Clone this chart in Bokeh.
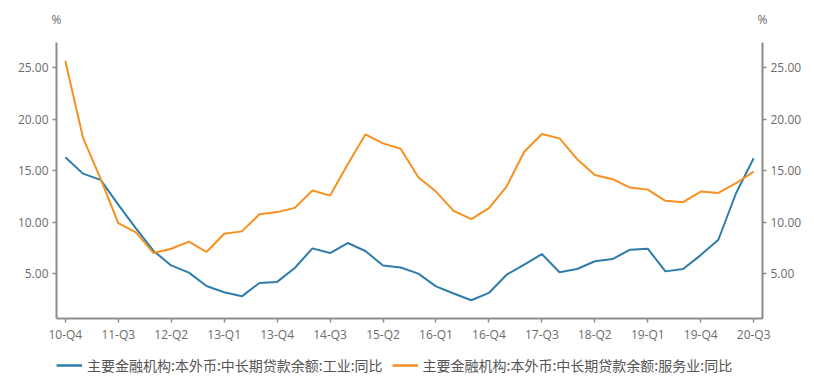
from bokeh.plotting import figure
from bokeh.layouts import column
from bokeh.models import (Range1d, LinearAxis, FixedTicker, NumeralTickFormatter,
                          Legend, LegendItem, ColumnDataSource)
from bokeh.embed import file_html
from bokeh.resources import INLINE

quarters = ["10-Q4",
            "11-Q1", "11-Q2", "11-Q3", "11-Q4",
            "12-Q1", "12-Q2", "12-Q3", "12-Q4",
            "13-Q1", "13-Q2", "13-Q3", "13-Q4",
            "14-Q1", "14-Q2", "14-Q3", "14-Q4",
            "15-Q1", "15-Q2", "15-Q3", "15-Q4",
            "16-Q1", "16-Q2", "16-Q3", "16-Q4",
            "17-Q1", "17-Q2", "17-Q3", "17-Q4",
            "18-Q1", "18-Q2", "18-Q3", "18-Q4",
            "19-Q1", "19-Q2", "19-Q3", "19-Q4",
            "20-Q1", "20-Q2", "20-Q3"]

industry = [16.3, 14.7, 14.1, 11.7, 9.4, 7.2, 5.8, 5.1, 3.8, 3.2,
            2.8, 4.1, 4.2, 5.55, 7.45, 7.0, 7.97, 7.2, 5.8, 5.6,
            5.0, 3.77, 3.07, 2.42, 3.13, 4.9, 5.87, 6.9, 5.13, 5.45,
            6.2, 6.42, 7.32, 7.42, 5.22, 5.45, 6.8, 8.29, 12.8, 16.2]

services = [25.63, 18.2, 14.2, 9.9, 9.0, 7.0, 7.42, 8.1, 7.1, 8.87,
            9.1, 10.77, 10.97, 11.38, 13.06, 12.57, 15.6, 18.5, 17.64, 17.12,
            14.35, 12.96, 11.09, 10.29, 11.35, 13.44, 16.83, 18.54, 18.12, 16.1,
            14.57, 14.16, 13.35, 13.15, 12.06, 11.93, 12.96, 12.83, 13.77, 14.9]

y_ticks = [5, 10, 15, 20, 25]
unit = "%"
label_industry = "主要金融机构:本外币:中长期贷款余额:工业:同比"
label_services = "主要金融机构:本外币:中长期贷款余额:服务业:同比"

BLUE = "#2e7dab"
ORANGE = "#f7901f"
AXIS = "#8c8c8c"
TICKTXT = "#6b6b6b"

idx = list(range(len(quarters)))
x_lo, x_hi = -0.5, len(quarters) - 0.5
src = ColumnDataSource(dict(x=idx, ind=industry, srv=services))

p = figure(width=814, height=345, output_backend="svg", toolbar_location=None,
           x_range=Range1d(x_lo, x_hi),
           y_range=Range1d(0.65, 27.42),
           min_border_left=56, min_border_right=52,
           min_border_top=42, min_border_bottom=26)
p.outline_line_color = None
p.xgrid.visible = False
p.ygrid.visible = False
p.background_fill_color = "white"
p.border_fill_color = "white"

p.line("x", "ind", source=src, line_color=BLUE, line_width=2)
p.line("x", "srv", source=src, line_color=ORANGE, line_width=2)

def style_axis(ax):
    ax.axis_line_color = AXIS
    ax.axis_line_width = 2
    ax.major_tick_line_color = AXIS
    ax.major_tick_line_width = 1.5
    ax.major_tick_out = 4
    ax.major_tick_in = 0
    ax.minor_tick_line_color = None
    ax.major_label_text_color = TICKTXT
    ax.major_label_text_font = "Open Sans"
    ax.major_label_text_font_size = "12px"

# x axis
xa = p.xaxis[0]
xa.ticker = FixedTicker(ticks=idx[::3])
xa.major_label_overrides = {i: quarters[i] for i in idx[::3]}
xa.major_label_standoff = 3
style_axis(xa)

# left y axis
ya = p.yaxis[0]
ya.ticker = FixedTicker(ticks=y_ticks)
ya.formatter = NumeralTickFormatter(format="0.00")
ya.major_label_standoff = 4
style_axis(ya)

# right y axis
ra = LinearAxis(ticker=FixedTicker(ticks=y_ticks),
                formatter=NumeralTickFormatter(format="0.00"))
ra.major_label_standoff = 4
style_axis(ra)
p.add_layout(ra, "right")

# unit labels above both value axes
ua = LinearAxis(ticker=FixedTicker(ticks=[x_lo, x_hi]))
ua.major_label_overrides = {x_lo: unit, x_hi: unit}
style_axis(ua)
ua.axis_line_color = None
ua.major_tick_line_color = None
ua.major_tick_out = 0
ua.major_label_standoff = 15
p.add_layout(ua, "above")

# legend strip (its frame is aligned with the chart frame by the column layout;
# the series lines sit outside its view ranges, so only the legend shows)
lg = figure(width=814, height=39, output_backend="svg", toolbar_location=None,
            x_range=Range1d(-100, -99), y_range=Range1d(-100, -99),
            min_border_left=56, min_border_right=52, min_border_top=0, min_border_bottom=0)
lg.axis.visible = False
lg.grid.visible = False
lg.outline_line_color = None
lg.background_fill_color = "white"
lg.border_fill_color = "white"
g1 = lg.line("x", "ind", source=src, line_color=BLUE, line_width=2.5)
g2 = lg.line("x", "srv", source=src, line_color=ORANGE, line_width=2.5)

legend = Legend(items=[LegendItem(label=label_industry, renderers=[g1]),
                       LegendItem(label=label_services, renderers=[g2])],
                location=(0, 9), orientation="horizontal",
                label_text_font="Noto Sans CJK SC", label_text_font_size="14px",
                label_text_color="#555555", glyph_width=26, glyph_height=16,
                label_height=16, label_standoff=5, spacing=9, padding=0, margin=0,
                border_line_color=None, background_fill_alpha=0)
lg.add_layout(legend, "center")

open("out.html", "w").write(file_html(column(p, lg, spacing=0), INLINE))
